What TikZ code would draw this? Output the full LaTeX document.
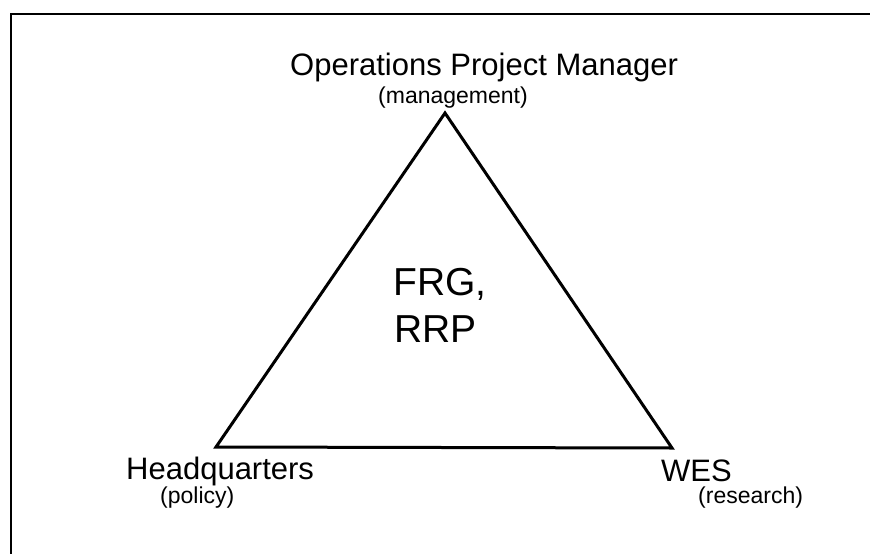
\documentclass[tikz,border=0pt]{standalone}
\usepackage{fontspec}
\setmainfont{Liberation Sans}
\begin{document}
\begin{tikzpicture}[x=1pt,y=-1pt,
  title/.style={font=\fontsize{31}{36}\selectfont, anchor=base west, inner sep=0pt},
  sub/.style={font=\fontsize{23}{27}\selectfont, anchor=base west, inner sep=0pt},
  center/.style={font=\fontsize{39}{46}\selectfont, anchor=base west, inner sep=0pt},
  edge/.style={line width=3pt, line join=miter},
  frame/.style={line width=2.5pt}]
\useasboundingbox (0,0) rectangle (870,554);
\coordinate (f1) at (11,554);
\coordinate (f2) at (11,14);
\coordinate (f3) at (870,14);
\draw[frame] (f1) -- (f2) -- (f3);
\coordinate (A) at (445,113);
\coordinate (B) at (216,447);
\coordinate (C) at (672,448);
\draw[edge] (A) -- (B) -- (C) -- cycle;
\node[title] (opm) at (290,75) {Operations Project Manager};
\node[sub] (mgmt) at (378,103) {(management)};
\node[title] (hq) at (126,479) {Headquarters};
\node[sub] (pol) at (160,503) {(policy)};
\node[title] (wes) at (661,481) {WES};
\node[sub] (res) at (698,503) {(research)};
\node[center] (frg) at (393,295) {FRG,};
\node[center] (rrp) at (394,342) {RRP};
\end{tikzpicture}
\end{document}
